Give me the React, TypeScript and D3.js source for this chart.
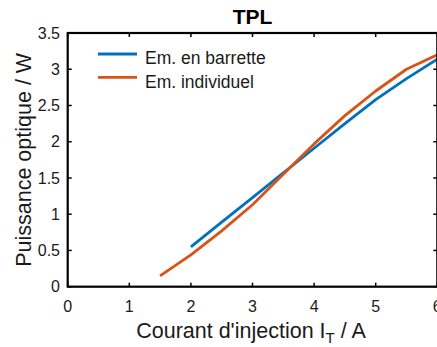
import React from "react";
import * as d3 from "d3";

const xBarrette = [2, 2.5, 3, 3.5, 4, 4.5, 5, 5.5, 6];
const yBarrette = [0.55, 0.89, 1.23, 1.57, 1.91, 2.25, 2.58, 2.87, 3.14];
const xIndividuel = [1.5, 2, 2.5, 3, 3.5, 4, 4.5, 5, 5.5, 6];
const yIndividuel = [0.15, 0.44, 0.77, 1.13, 1.55, 1.97, 2.36, 2.7, 3.0, 3.2];
const xTicks = [0, 1, 2, 3, 4, 5, 6];
const yTicks = [0, 0.5, 1, 1.5, 2, 2.5, 3, 3.5];
const seriesNames = ["Em. en barrette", "Em. individuel"];
const seriesColors = ["#0072BD", "#D95319"];

const W = 437;
const H = 347;
const left = 67.7;
const right = 437.3;
const top = 33;
const bottom = 286.7;

export default function App() {
  const x = d3.scaleLinear().domain([0, 6]).range([left, right]);
  const y = d3.scaleLinear().domain([0, 3.5]).range([bottom, top]);
  const line = d3
    .line<[number, number]>()
    .x((d) => x(d[0]))
    .y((d) => y(d[1]));
  const series = [
    xBarrette.map((v, i) => [v, yBarrette[i]] as [number, number]),
    xIndividuel.map((v, i) => [v, yIndividuel[i]] as [number, number]),
  ];
  const font = "'Liberation Sans', Arial, Helvetica, sans-serif";
  const tickLen = 4;
  return (
    <svg
      width={W}
      height={H}
      style={{ position: "absolute", left: 0, top: 0, background: "#fff" }}
      fontFamily={font}
    >
      <defs>
        <clipPath id="plotclip">
          <rect x={left} y={top} width={right - left} height={bottom - top} />
        </clipPath>
      </defs>
      <rect x={0} y={0} width={W} height={H} fill="#fff" />
      <g clipPath="url(#plotclip)">
        {series.map((s, i) => (
          <path
            key={i}
            d={line(s) || ""}
            fill="none"
            stroke={seriesColors[i]}
            strokeWidth={2.8}
            strokeLinejoin="round"
          />
        ))}
      </g>
      <g stroke="#000" strokeWidth={1.5}>
        {xTicks.map((t) => (
          <g key={"xt" + t}>
            <line x1={x(t)} x2={x(t)} y1={bottom} y2={bottom - tickLen} />
            <line x1={x(t)} x2={x(t)} y1={top} y2={top + tickLen} />
          </g>
        ))}
        {yTicks.map((t) => (
          <g key={"yt" + t}>
            <line x1={left} x2={left + tickLen} y1={y(t)} y2={y(t)} />
            <line x1={right} x2={right - tickLen} y1={y(t)} y2={y(t)} />
          </g>
        ))}
      </g>
      <rect
        x={left}
        y={top}
        width={right - left}
        height={bottom - top}
        fill="none"
        stroke="#000"
        strokeWidth={2.2}
      />
      <g fontSize={16} fill="#1a1a1a">
        {xTicks.map((t) => (
          <text key={"xl" + t} x={x(t)} y={311.5} textAnchor="middle">
            {t}
          </text>
        ))}
        {yTicks.map((t) => (
          <text
            key={"yl" + t}
            x={60}
            y={y(t)}
            dy="0.35em"
            textAnchor="end"
          >
            {t}
          </text>
        ))}
      </g>
      <text
        x={(left + right) / 2}
        y={24}
        textAnchor="middle"
        fontSize={21}
        fontWeight="bold"
        fill="#000"
      >
        TPL
      </text>
      <text x={251} y={338} textAnchor="middle" fontSize={21.5} fill="#1a1a1a">
        Courant d'injection I
        <tspan fontSize={15} dy={5}>
          T
        </tspan>
        <tspan dy={-5}> / A</tspan>
      </text>
      <text
        transform={`translate(31, ${(top + bottom) / 2}) rotate(-90)`}
        textAnchor="middle"
        fontSize={21.5}
        fill="#1a1a1a"
      >
        Puissance optique / W
      </text>
      {seriesNames.map((n, i) => (
        <g key={n}>
          <line
            x1={98}
            x2={137}
            y1={54 + i * 23.3}
            y2={54 + i * 23.3}
            stroke={seriesColors[i]}
            strokeWidth={2.8}
          />
          <text x={145} y={64.3 + i * 23.3} fontSize={17.5} fill="#1a1a1a">
            {n}
          </text>
        </g>
      ))}
    </svg>
  );
}
